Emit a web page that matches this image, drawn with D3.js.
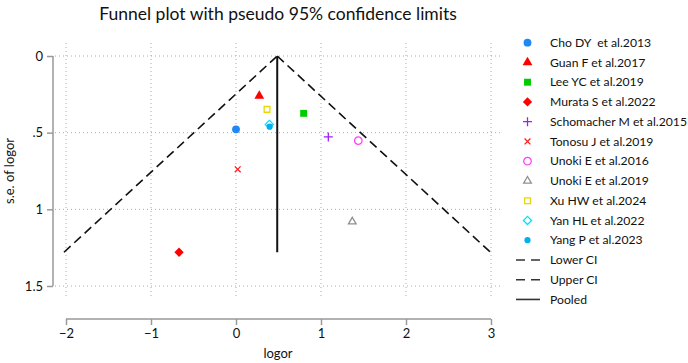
<!DOCTYPE html>
<html>
<head>
<meta charset="utf-8">
<script src="https://cdn.jsdelivr.net/npm/d3@7"></script>
<style>
  body { margin: 0; background: #fff; }
  text { font-family: Lato, "Open Sans", sans-serif; fill: #111; white-space: pre; }
</style>
</head>
<body>
<svg id="chart" width="688" height="363"></svg>
<script>
// study names, effect sizes (logor) and standard errors
const studies = ["Cho DY  et al.2013", "Guan F et al.2017", "Lee YC et al.2019", "Murata S et al.2022",
                 "Schomacher M et al.2015", "Tonosu J et al.2019", "Unoki E et al.2016", "Unoki E et al.2019",
                 "Xu HW et al.2024", "Yan HL et al.2022", "Yang P et al.2023"];
const logor = [0.0, 0.274, 0.796, -0.67, 1.086, 0.02, 1.439, 1.368, 0.365, 0.392, 0.396];
const seLogor = [0.478, 0.261, 0.374, 1.28, 0.528, 0.739, 0.552, 1.081, 0.348, 0.446, 0.461];
const pooled = 0.485;
const seMax = 1.28;
const xTicks = [-2, -1, 0, 1, 2, 3];
const yTicks = [0, 0.5, 1, 1.5];
const yTickLabels = ["0", ".5", "1", "1.5"];

// marker style per study: [symbol, colour, filled, size]
const markers = [
    [d3.symbolCircle, "#1e88f5", true, 48],
    [d3.symbolTriangle, "#ff0000", true, 42],
    [d3.symbolSquare, "#00cc00", true, 48],
    [d3.symbolDiamond2, "#ff0000", true, 55],
    [d3.symbolPlus, "#a020f0", false, 28],
    [d3.symbolTimes, "#ff2020", false, 24],
    [d3.symbolCircle, "#ff40ff", false, 44],
    [d3.symbolTriangle2, "#909090", false, 42],
    [d3.symbolSquare2, "#e8d800", false, 42],
    [d3.symbolDiamond2, "#00e0ff", false, 42],
    [d3.symbolCircle, "#00b0f0", true, 30]
];

var svg = d3.select("#chart");

var scX = d3.scaleLinear().domain([-2, 3]).range([66, 491]),
    scY = d3.scaleLinear().domain([0, 1.5]).range([56, 286]);

// grid lines
var grid = svg.append("g").attr("stroke", "#aaa").attr("stroke-dasharray", "1,3").attr("stroke-width", 1);
xTicks.forEach(t => {
    grid.append("line").attr("x1", scX(t)).attr("x2", scX(t)).attr("y1", 43).attr("y2", 297);
});
yTicks.forEach(t => {
    grid.append("line").attr("x1", 55).attr("x2", 502).attr("y1", scY(t)).attr("y2", scY(t));
});

// axes
var xAxis = d3.axisBottom(scX).tickValues(xTicks).tickSize(6).tickPadding(4).tickFormat(d => d < 0 ? "\u2212" + (-d) : d);
var gx = svg.append("g").attr("transform", "translate(0,319)").call(xAxis);
var yAxis = d3.axisLeft(scY).tickValues(yTicks).tickSize(6).tickPadding(4).tickFormat((d, i) => yTickLabels[i]);
var gy = svg.append("g").attr("transform", "translate(53,0)").call(yAxis);
[gx, gy].forEach(g => {
    g.select(".domain").attr("stroke", "#999").attr("stroke-width", 1.5);
    g.selectAll(".tick line").attr("stroke", "#999").attr("stroke-width", 1.5);
    g.selectAll("text").attr("font-size", 13).attr("font-family", "Lato, sans-serif").attr("fill", "#111");
});
gx.select(".domain").attr("d", "M" + scX(-2) + ",0H" + scX(3));
gy.select(".domain").attr("d", "M0," + scY(0) + "V" + scY(1.5));

// funnel lines
var line = d3.line().x(d => scX(d[0])).y(d => scY(d[1]));
svg.append("path").attr("d", line([[pooled - 1.96 * seMax, seMax], [pooled, 0]]))
   .attr("fill", "none").attr("stroke", "#111").attr("stroke-width", 1.6).attr("stroke-dasharray", "9,5");
svg.append("path").attr("d", line([[pooled, 0], [pooled + 1.96 * seMax, seMax]]))
   .attr("fill", "none").attr("stroke", "#111").attr("stroke-width", 1.6).attr("stroke-dasharray", "9,5");
svg.append("path").attr("d", line([[pooled, 0], [pooled, seMax]]))
   .attr("fill", "none").attr("stroke", "#111").attr("stroke-width", 2);

// points
function drawMarker(sel, i) {
    var filled = markers[i][2];
    sel.attr("d", d3.symbol(markers[i][0], markers[i][3])())
       .attr("fill", filled ? markers[i][1] : "none")
       .attr("stroke", markers[i][1])
       .attr("stroke-width", filled ? 0 : 1.3);
}
svg.selectAll("path.pt").data(d3.range(studies.length)).join("path")
   .attr("class", "pt")
   .attr("transform", i => "translate(" + scX(logor[i]) + "," + scY(seLogor[i]) + ")")
   .each(function(i) { drawMarker(d3.select(this), i); });

// titles
svg.append("text").attr("x", 278).attr("y", 20).attr("text-anchor", "middle").attr("font-size", 17.5)
   .text("Funnel plot with pseudo 95% confidence limits");
svg.append("text").attr("x", 278).attr("y", 358).attr("text-anchor", "middle").attr("font-size", 13).text("logor");
svg.append("text").attr("transform", "translate(14,171) rotate(-90)").attr("text-anchor", "middle")
   .attr("font-size", 13).text("s.e. of logor");

// legend
var lg = svg.append("g");
studies.forEach((s, i) => {
    var y = 42.7 + i * 19.75;
    lg.append("path").attr("transform", "translate(527.5," + y + ")").call(drawMarker, i);
    lg.append("text").attr("x", 550).attr("y", y).attr("dy", "0.35em").attr("font-size", 12.2).text(s);
});
["Lower CI", "Upper CI", "Pooled"].forEach((s, j) => {
    var y = 42.7 + (studies.length + j) * 19.75;
    lg.append("line").attr("x1", 516).attr("x2", 540).attr("y1", y).attr("y2", y)
      .attr("stroke", "#333").attr("stroke-width", 1.6).attr("stroke-dasharray", j < 2 ? "9,6" : null);
    lg.append("text").attr("x", 550).attr("y", y).attr("dy", "0.35em").attr("font-size", 12.2).text(s);
});
</script>
</body>
</html>
